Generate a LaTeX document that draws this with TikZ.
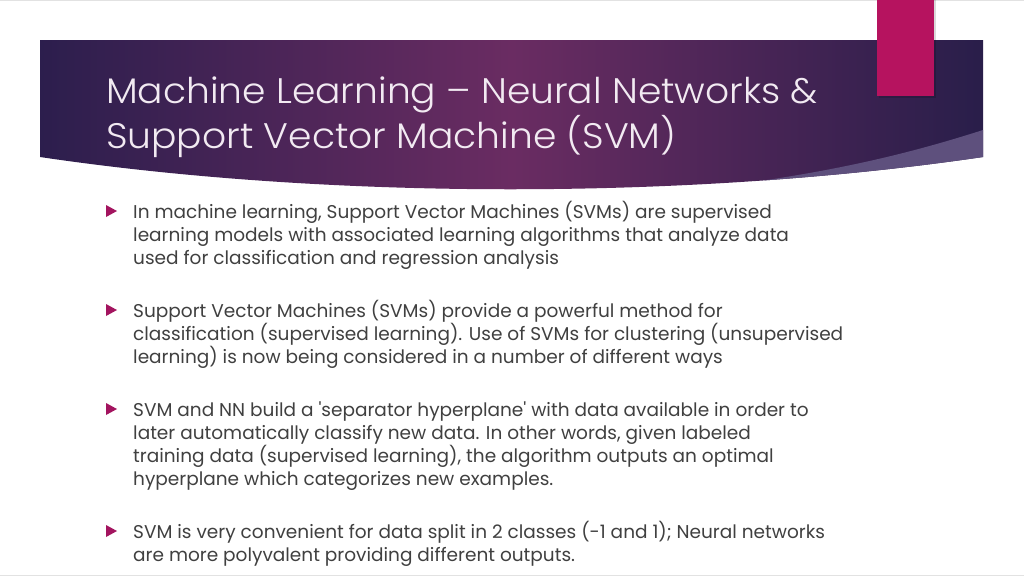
\documentclass[tikz,border=0pt]{standalone}
\usepackage{fontspec}
\setmainfont{Poppins}[FakeStretch=1.0]
\newfontfamily\titlefont{Poppins}[UprightFont={* Light}, FakeStretch=1.06]
\usetikzlibrary{shadings}
\definecolor{bannerL}{HTML}{2C1E4D}
\definecolor{bannerM}{HTML}{6A2C62}
\definecolor{bannerR}{HTML}{291E4A}
\definecolor{bandcol}{HTML}{5E507D}
\definecolor{magbox}{HTML}{B6135F}
\definecolor{titlecol}{HTML}{F2EAF2}
\definecolor{bodycol}{HTML}{404040}
\definecolor{bulletcol}{HTML}{A3145F}
\definecolor{edgecol}{HTML}{E2E2E2}
\tikzset{
  titleline/.style={anchor=base west, inner sep=0pt, text=titlecol, font=\titlefont\fontsize{35.5}{42}\selectfont},
  bodyline/.style={anchor=base west, inner sep=0pt, text=bodycol, font=\fontsize{18.5}{23}\selectfont},
  bulletmark/.style={fill=bulletcol, draw=none},
}
\begin{document}
\begin{tikzpicture}[x=1pt,y=-1pt]
\useasboundingbox (0,0) rectangle (1024,576);
\fill[white] (0,0) rectangle (1024,576);
\draw[edgecol, line width=1pt] (0,0.5) -- (1024,0.5);
\draw[edgecol, line width=1pt] (0,575.5) -- (1024,575.5);
% banner
\begin{scope}
\clip (40,40) -- (983,40) -- (983,157) .. controls (690,200) and (330,200) .. (40,157) -- cycle;
\shade[left color=bannerL, right color=bannerR, middle color=bannerM] (40,40) rectangle (983,200);
\fill[bandcol] (983,130) .. controls (880,163) and (790,180) .. (640,196) -- (983,205) -- cycle;
\end{scope}
% magenta box
\fill[black, opacity=0.15] (879,0) rectangle (936,98);
\fill[magbox] (877,0) rectangle (934,96);
% title
\node[titleline] (t1) at (106,103) {Machine Learning – Neural Networks \&};
\node[titleline] (t2) at (106,148) {Support Vector Machine (SVM)};
% bullets
\foreach \y in {211,310,409,531}{
  \fill[bulletmark] (106,\y-6) -- (117,\y) -- (106,\y+6) -- cycle;
}
\node[bodyline] (a1) at (133,218) {In machine learning, Support Vector Machines (SVMs) are supervised};
\node[bodyline] (a2) at (133,241) {learning models with associated learning algorithms that analyze data};
\node[bodyline] (a3) at (133,264) {used for classification and regression analysis};
\node[bodyline] (b1) at (133,317) {Support Vector Machines (SVMs) provide a powerful method for};
\node[bodyline] (b2) at (133,340) {classification (supervised learning). Use of SVMs for clustering (unsupervised};
\node[bodyline] (b3) at (133,363) {learning) is now being considered in a number of different ways};
\node[bodyline] (c1) at (133,416) {SVM and NN build a \textquotesingle separator hyperplane\textquotesingle{} with data available in order to};
\node[bodyline] (c2) at (133,439) {later automatically classify new data. In other words, given labeled};
\node[bodyline] (c3) at (133,462) {training data (supervised learning), the algorithm outputs an optimal};
\node[bodyline] (c4) at (133,485) {hyperplane which categorizes new examples.};
\node[bodyline] (d1) at (133,538) {SVM is very convenient for data split in 2 classes (-1 and 1); Neural networks};
\node[bodyline] (d2) at (133,561) {are more polyvalent providing different outputs.};
\end{tikzpicture}
\end{document}
